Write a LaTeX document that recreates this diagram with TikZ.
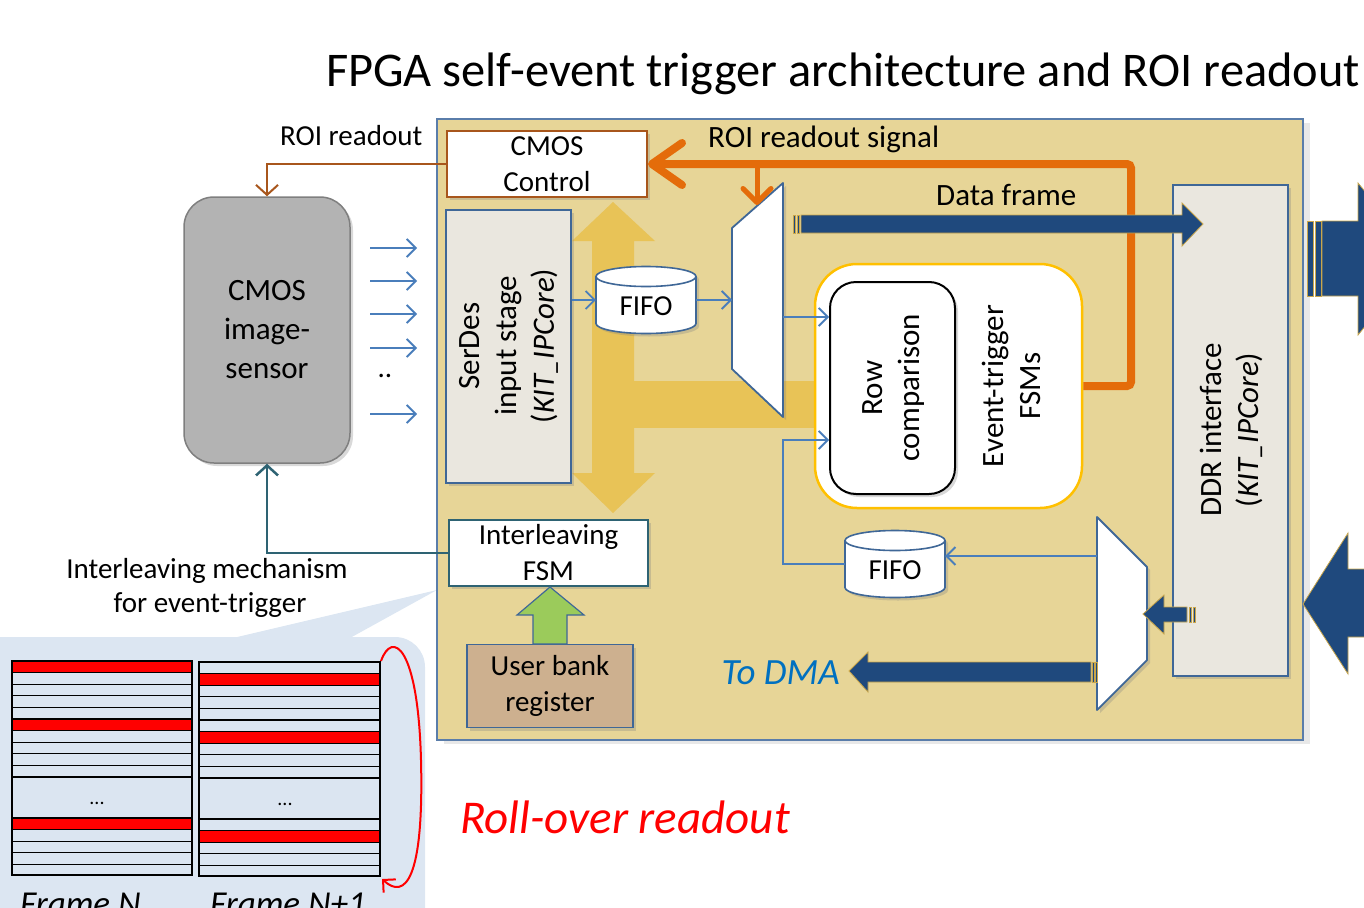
\documentclass[tikz,border=0pt]{standalone}
\usepackage{fontspec}
\setmainfont{Carlito}
\usetikzlibrary{arrows.meta,shadows,calc}

\definecolor{fpgafill}{HTML}{E7D597}
\definecolor{fpgaline}{HTML}{5A7DAA}
\definecolor{goldbar}{HTML}{E8C357}
\definecolor{boxline}{HTML}{3F6797}
\definecolor{corefill}{HTML}{EAE7DF}
\definecolor{sigblue}{HTML}{4A7EBB}
\definecolor{busblue}{HTML}{1F497D}
\definecolor{busedge}{HTML}{C9A64B}
\definecolor{roiorange}{HTML}{E46C0A}
\definecolor{roibrown}{HTML}{A8561C}
\definecolor{tealline}{HTML}{2E6373}
\definecolor{sensorgray}{HTML}{B3B3B3}
\definecolor{sensorline}{HTML}{7F7F7F}
\definecolor{fsmgold}{HTML}{FFC000}
\definecolor{greenarrow}{HTML}{9BCB5B}
\definecolor{regfill}{HTML}{CDB08F}
\definecolor{calloutblue}{HTML}{DCE6F2}
\definecolor{rowblue}{HTML}{DBE5F1}
\definecolor{dmablue}{HTML}{0070C0}
\definecolor{rowred}{HTML}{FF0000}

\tikzset{
  txta/.style={font=\fontsize{29}{36}\selectfont, inner sep=0pt, align=center},
  txtb/.style={font=\fontsize{31}{37}\selectfont, inner sep=0pt, align=center},
  shad/.style={drop shadow={shadow xshift=3pt, shadow yshift=-3pt, opacity=0.3}},
  sigline/.style={draw=sigblue, line width=1.8pt, -{Straight Barb[length=9pt,width=18pt]}},
  busarrow/.style={fill=busblue, draw=busedge, line width=0.8pt},
  muxshape/.style={fill=white, draw=boxline, line width=1.8pt, line join=round, shad},
  fifobody/.style={fill=white, draw=boxline, line width=1.6pt, shad},
  fifoframe/.style={inner sep=0pt, minimum width=100pt, minimum height=67pt},
  corebox/.style={fill=corefill, draw=boxline, line width=2.2pt, inner sep=0pt, shad},
  whitebox/.style={fill=white, line width=2pt, inner sep=0pt, shad},
}

% cylinder outline of a FIFO centred on #1 (width 100, height 67)
\newcommand\fifodrum[1]{%
  \path[fifobody] ($(#1)+(-50,-23.5)$) -- ($(#1)+(-50,23.5)$)
    arc[start angle=180, end angle=0, x radius=50, y radius=10]
    -- ($(#1)+(50,-23.5)$)
    arc[start angle=0, end angle=-180, x radius=50, y radius=10] -- cycle;
  \draw[boxline, line width=1.6pt] ($(#1)+(-50,-23.5)$)
    arc[start angle=180, end angle=0, x radius=50, y radius=10];
}

\begin{document}
\begin{tikzpicture}[x=1pt,y=-1pt]
\useasboundingbox (0,0) rectangle (1364,907);

% title
\node[font=\fontsize{48.4}{58}\selectfont, inner sep=0pt, anchor=base] (title) at (843,86)
  {FPGA self-event trigger architecture and ROI readout};

% callout bubble behind the frame buffers
\fill[calloutblue, rounded corners=30pt] (-40,637) rectangle (425,960);
\fill[calloutblue] (233,638) -- (437,590) -- (350,638) -- cycle;

% FPGA area
\node[draw=fpgaline, fill=fpgafill, line width=2pt, minimum width=866pt, minimum height=621pt,
      inner sep=0pt, drop shadow={shadow xshift=7pt, shadow yshift=-4pt, opacity=0.18}] (fpga) at (870,429.5) {};

% internal data bus (gold)
\fill[goldbar] (613,202) -- (655,241) -- (634,241) -- (634,473) -- (655,473) -- (613,513)
  -- (572,473) -- (592,473) -- (592,241) -- (572,241) -- cycle;
\fill[goldbar] (634,381) rectangle (820,428);

% CMOS sensor
\node[font=\fontsize{31}{39}\selectfont, inner sep=0pt, align=center, rounded corners=30pt,
      fill=sensorgray, draw=sensorline, line width=1.5pt,
      minimum width=166pt, minimum height=266pt, shad] (sensor) at (267,330) {CMOS\\image-\\sensor};

% CMOS control
\node[whitebox, txta, draw=roibrown, minimum width=200pt, minimum height=66pt] (ctrl) at (547,164) {CMOS\\Control};

% SerDes input stage
\node[corebox, minimum width=125pt, minimum height=273pt] (serdes) at (508.5,346.5) {};
\node[txtb, rotate=90] (serdest) at (509,346) {SerDes\\input stage\\(\textit{KIT\_IPCore})};

% FIFOs
\coordinate (fifo1c) at (646,300);
\fifodrum{fifo1c}
\node[fifoframe] (fifo1) at (fifo1c) {};
\node[txta] (fifo1t) at ($(fifo1c)+(0,6)$) {FIFO};
\coordinate (fifo2c) at (895,564);
\fifodrum{fifo2c}
\node[fifoframe] (fifo2) at (fifo2c) {};
\node[txta] (fifo2t) at ($(fifo2c)+(0,6)$) {FIFO};

% multiplexer after the input FIFO
\coordinate (m1a) at (732,228);
\coordinate (m1b) at (783,183);
\coordinate (m1c) at (783,417);
\coordinate (m1d) at (732,369);
\draw[muxshape] (m1a) -- (m1b) -- (m1c) -- (m1d) -- cycle;
\coordinate (m1in) at (732,300);
\coordinate (m1out) at (783,317);
\coordinate (m1top) at (757,205);

% event-trigger FSMs
\node[fill=white, draw=fsmgold, line width=2.5pt, rounded corners=42pt, minimum width=267pt,
      minimum height=244pt, inner sep=0pt] (evt) at (948.5,386) {};
\node[fill=white, draw=black, line width=2pt, rounded corners=26pt, minimum width=125pt,
      minimum height=212pt, inner sep=0pt, shad] (rowc) at (892.5,388) {};
\node[txtb, rotate=90] (rowct) at (894,388) {Row\\comparison};
\node[txtb, rotate=90] (evtt) at (1011,386) {Event-trigger\\FSMs};

% DDR interface
\node[corebox, minimum width=115pt, minimum height=491pt] (ddr) at (1230.5,430.5) {};
\node[txtb, rotate=90] (ddrt) at (1231,430) {DDR interface\\(\textit{KIT\_IPCore})};

% output multiplexer
\coordinate (m2a) at (1097,517);
\coordinate (m2b) at (1147,567);
\coordinate (m2c) at (1147,660);
\coordinate (m2d) at (1097,710);
\draw[muxshape] (m2a) -- (m2b) -- (m2c) -- (m2d) -- cycle;
\coordinate (m2fifo) at (1097,556);

% interleaving FSM and user register
\node[whitebox, txta, draw=tealline, minimum width=199pt, minimum height=66pt] (ilv) at (548.5,553) {Interleaving\\FSM};
\node[txta, fill=regfill, draw=boxline, line width=1.8pt, minimum width=166pt, minimum height=83pt, shad]
  (ubr) at (550,686) {User bank\\register};
\path[fill=greenarrow, draw=boxline, line width=1.2pt, line join=miter]
  (533,644) -- (533,615) -- (517,615) -- (550,587) -- (584,615) -- (567,615) -- (567,644) -- cycle;

% sensor data lanes
\foreach \yy [count=\k] in {248,281,314,348,414} {
  \coordinate (laneA\k) at (370,\yy);
  \coordinate (laneB\k) at (417,\yy);
  \draw[sigline] (laneA\k) -- (laneB\k);
}
\node[txta, anchor=base] (lanedots) at (385,377) {..};

% control connections to the sensor
\draw[roibrown, line width=2pt, -{Straight Barb[length=10pt,width=22pt]}] (ctrl.west) -| (sensor.north);
\node[txta, anchor=base west] (roilbl) at (280,145) {ROI readout};
\draw[tealline, line width=2.5pt, -{Straight Barb[length=10pt,width=22pt]}] (ilv.west) -| (sensor.south);

% signal paths inside the FPGA
\draw[sigline] (serdes.east |- fifo1.west) -- (fifo1.west);
\draw[sigline] (fifo1.east) -- (m1in);
\draw[sigline] (m1out) -- (m1out -| rowc.west);
\coordinate (fbk) at (783,440);
\draw[sigline] (fifo2.west) -| (fbk) -- (fbk -| rowc.west);
\draw[sigline] (m2fifo) -- (m2fifo -| fifo2.east);

% ROI readout signal
\coordinate (roicorner) at (1131,164);
\draw[roiorange, line width=8pt, rounded corners=4pt, -{Straight Barb[length=30pt,width=42pt,round]}]
  (evt.east) -- (evt.east -| roicorner) -- (roicorner) -- (ctrl.east);
\coordinate (roibranch) at (757,164);
\draw[roiorange, line width=5pt, -{Straight Barb[length=14pt,width=28pt,round]}] (roibranch) -- (m1top);
\node[txtb, anchor=base west] (roisiglbl) at (708,147) {ROI readout signal};

% data frame bus
\path[busarrow] (801,215) -- (1182,215) -- (1182,203) -- (1203,224) -- (1182,246) -- (1182,233) -- (801,233) -- cycle;
\path[busarrow] (793,215) rectangle (795.5,233);
\path[busarrow] (797,215) rectangle (799.5,233);
\node[txtb, anchor=base west] (dflbl) at (936,205) {Data frame};

% DDR to output multiplexer
\path[busarrow] (1187,607) -- (1164,607) -- (1164,595) -- (1143,614) -- (1164,634) -- (1164,622) -- (1187,622) -- cycle;
\path[busarrow] (1189,607) rectangle (1191.5,622);
\path[busarrow] (1193,607) rectangle (1195.5,622);

% to DMA
\path[busarrow] (1091,662) -- (868,662) -- (868,652) -- (849,671) -- (868,692) -- (868,682) -- (1091,682) -- cycle;
\path[busarrow] (1092,662) rectangle (1094,682);
\path[busarrow] (1095,662) rectangle (1097,682);
\node[font=\fontsize{37}{43}\selectfont\itshape, text=dmablue, inner sep=0pt, anchor=base east] (dmalbl) at (840,684) {To DMA};

% external memory links
\path[busarrow] (1322,221) -- (1358,221) -- (1358,183) -- (1420,258) -- (1358,335) -- (1358,296) -- (1322,296) -- cycle;
\path[busarrow] (1307,221) rectangle (1313,296);
\path[busarrow] (1315,221) rectangle (1321,296);
\path[busarrow] (1400,569) -- (1348,569) -- (1348,533) -- (1303,604) -- (1348,674) -- (1348,637) -- (1400,637) -- cycle;

% interleaving explanation
\node[txta, anchor=base] (ilvlbl1) at (207,578) {Interleaving mechanism};
\node[txta, anchor=base] (ilvlbl2) at (210,612) {for event-trigger};

% frame buffers
\def\rh{11.6}
% frame N
\fill[rowblue] (12,661) rectangle (192,875);
\foreach \r in {0,5} { \fill[rowred] (12,661+\r*\rh) rectangle (192,661+\r*\rh+\rh); }
\fill[rowred] (12,818) rectangle (192,818+\rh);
\foreach \r in {1,...,10} { \draw[black, line width=1.3pt] (12,661+\r*\rh) -- (192,661+\r*\rh); }
\foreach \r in {0,...,4} { \draw[black, line width=1.3pt] (12,818+\r*\rh) -- (192,818+\r*\rh); }
\node[draw=black, line width=2pt, minimum width=180pt, minimum height=214pt, inner sep=0pt] (frameN) at (102,768) {};
\node[font=\fontsize{20}{24}\selectfont, anchor=base] (dotsN) at (97,804) {...};
% frame N+1
\fill[rowblue] (199,662) rectangle (380,876);
\foreach \r in {1,6} { \fill[rowred] (199,662+\r*\rh) rectangle (380,662+\r*\rh+\rh); }
\fill[rowred] (199,819+\rh) rectangle (380,819+2*\rh);
\foreach \r in {1,...,10} { \draw[black, line width=1.3pt] (199,662+\r*\rh) -- (380,662+\r*\rh); }
\foreach \r in {0,...,4} { \draw[black, line width=1.3pt] (199,819+\r*\rh) -- (380,819+\r*\rh); }
\node[draw=black, line width=2pt, minimum width=181pt, minimum height=214pt, inner sep=0pt] (frameM) at (289.5,769) {};
\node[font=\fontsize{20}{24}\selectfont, anchor=base] (dotsM) at (285,805) {...};

\node[font=\fontsize{35}{42}\selectfont\itshape, inner sep=0pt, anchor=base west] (fnlbl) at (20,915) {Frame N};
\node[font=\fontsize{35}{42}\selectfont\itshape, inner sep=0pt, anchor=base west] (fmlbl) at (210,915) {Frame N+1};

% roll-over
\draw[rowred, line width=2pt, -{Straight Barb[length=9pt,width=18pt]}]
  (frameM.north east) .. controls (392,630) and (418,645) .. (421,760)
  .. controls (424,880) and (405,900) .. (382,879);
\node[font=\fontsize{47}{55}\selectfont\itshape, text=rowred, inner sep=0pt, anchor=base west] (rolllbl) at (460,833) {Roll-over readout};

\end{tikzpicture}
\end{document}
